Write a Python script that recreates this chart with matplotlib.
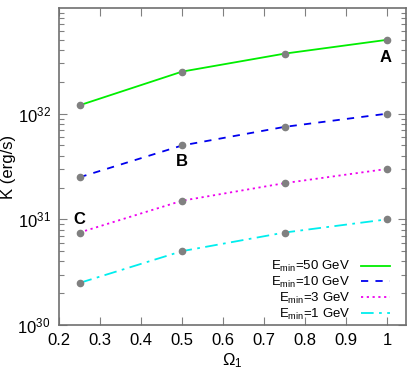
import matplotlib
matplotlib.use("Agg")
import matplotlib.pyplot as plt
from matplotlib.ticker import LogLocator, FixedLocator, NullLocator

plt.rcParams['font.family'] = ['Liberation Sans', 'DejaVu Sans']
plt.rcParams['mathtext.fontset'] = 'custom'
plt.rcParams['mathtext.rm'] = 'Liberation Sans'
plt.rcParams['mathtext.it'] = 'Liberation Sans'
plt.rcParams['mathtext.bf'] = 'Liberation Sans:bold'

omega = [0.25, 0.5, 0.75, 1.0]
k_50 = [1.2e32, 2.5e32, 3.7e32, 5.0e32]
k_10 = [2.5e31, 5.0e31, 7.5e31, 1.0e32]
k_3 = [7.5e30, 1.5e31, 2.2e31, 3.0e31]
k_1 = [2.5e30, 5.0e30, 7.5e30, 1.0e31]
labels = [r'E$_{\rm min}$=50 GeV', r'E$_{\rm min}$=10 GeV',
          r'E$_{\rm min}$=3 GeV', r'E$_{\rm min}$=1 GeV']
xticks = [0.2, 0.3, 0.4, 0.5, 0.6, 0.7, 0.8, 0.9, 1.0]
xticklabels = ['0.2', '0.3', '0.4', '0.5', '0.6', '0.7', '0.8', '0.9', '1']
point_labels = ['A', 'B', 'C']
point_x = [0.995, 0.5, 0.25]
point_y = [3.4e32, 3.5e31, 1.0e31]

fig = plt.figure(figsize=(4.13, 3.75), dpi=100)
ax = fig.add_axes([59/413, 50/375, (406-59)/413, (325-8)/375])

series = [k_50, k_10, k_3, k_1]
colors = ['#00ee00', '#0000ee', '#ee00ee', '#00eeee']
styles = ['-', (0, (4, 4)), (0, (1.2, 2)), (0, (7, 3, 1.5, 3))]
for vals, c, ls, lab in zip(series, colors, styles, labels):
    ax.plot(omega, vals, color=c, linestyle=ls, lw=1.3, label=lab)
    ax.plot(omega, vals, linestyle='none', marker='o', ms=4.5,
            color='#808080', zorder=5)

for t, px, py in zip(point_labels, point_x, point_y):
    ax.text(px, py, t, fontsize=12, fontweight='bold', ha='center', va='center')

ax.set_yscale('log')
ax.set_xlim(0.2, 1.046)
ax.set_ylim(1e30, 1e33)
ax.xaxis.set_major_locator(FixedLocator(xticks))
ax.set_xticklabels(xticklabels)
ax.xaxis.set_minor_locator(NullLocator())
ax.yaxis.set_major_locator(FixedLocator([1e30, 1e31, 1e32]))
ax.set_yticklabels([r'10$^{30}$', r'10$^{31}$', r'10$^{32}$'])
ax.yaxis.set_minor_locator(LogLocator(base=10, subs=range(2, 10), numticks=20))

for s in ax.spines.values():
    s.set_color('#707070')
    s.set_linewidth(1.2)
ax.tick_params(which='both', direction='in', top=True, right=True,
               color='#808080', labelsize=12)
ax.tick_params(which='major', length=6, width=0.8, pad=6)
ax.tick_params(which='minor', length=3.5, width=0.8)

ax.set_ylabel('K (erg/s)', fontsize=12)
ax.yaxis.set_label_coords(-0.124, 0.5)
ax.set_xlabel(r'$\Omega_1$', fontsize=12, labelpad=2)

leg = ax.legend(loc='lower right', frameon=False, markerfirst=False,
                fontsize=9.5, handlelength=2.2, labelspacing=0.05,
                handletextpad=0.8, borderaxespad=0.0,
                bbox_to_anchor=(0.968, -0.006))

fig.savefig('out.png', dpi=100)
